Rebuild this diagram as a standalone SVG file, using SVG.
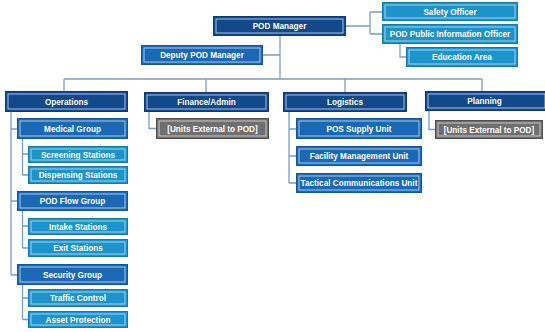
<svg xmlns="http://www.w3.org/2000/svg" width="545" height="332" viewBox="0 0 545 332">
<style>
.o{stroke-width:1}
.dk .o{fill:#13488b;stroke:#0d3a72}
.md .o{fill:#1b69b5;stroke:#145598}
.lt .o{fill:#1c93cb;stroke:#1579a9}
.gy .o{fill:#6f6f6f;stroke:#4f4f4f}
.i{fill:none;stroke:#d6e6f5;stroke-width:0.9;opacity:0.85}
.gy .i{stroke:#e4e4e4}
text{font-family:"Liberation Sans",Arial,sans-serif;font-weight:bold;font-size:8.2px;fill:#fff;text-anchor:middle}
.c{fill:none;stroke:#7c9cc4;stroke-width:1.3}
</style>
<rect width="545" height="332" fill="#fff"/>
<g id="connectors" class="c">
<path d="M280 36V79M263 55H280M64 79H482M64 79V91M206 79V92M345 79V92M482 79V91"/>
<path d="M346 26H370M370 12V34M370 12H382M370 34H382M400 44V57H406"/>
<path d="M11 112V275M11 129H17M11 201H17M11 275H17"/>
<path d="M22.5 139V175M22.5 154H28M22.5 175H28"/>
<path d="M22.5 211V248M22.5 226H28M22.5 248H28"/>
<path d="M22.5 285V319.5M22.5 298H28M22.5 319.5H28"/>
<path d="M149 112V128.5H156"/>
<path d="M289 112V183M289 129H296M289 156H296M289 183H296"/>
<path d="M429 111V129.5H435"/>
</g>
<g id="pod-manager" class="dk"><rect class="o" x="213.5" y="16.5" width="132" height="19"/><rect class="i" x="216" y="19" width="127" height="14"/><text x="279.5" y="29">POD Manager</text></g>
<g id="safety-officer" class="lt"><rect class="o" x="382.5" y="2.5" width="135" height="18"/><rect class="i" x="385" y="5" width="130" height="13"/><text x="450" y="14.5">Safety Officer</text></g>
<g id="pio" class="lt"><rect class="o" x="382.5" y="24.5" width="135" height="19"/><rect class="i" x="385" y="27" width="130" height="14"/><text x="450" y="37">POD Public Information Officer</text></g>
<g id="education-area" class="lt"><rect class="o" x="406.5" y="47.5" width="111" height="19"/><rect class="i" x="409" y="50" width="106" height="14"/><text x="462" y="60">Education Area</text></g>
<g id="deputy" class="md"><rect class="o" x="141.5" y="45.5" width="121" height="19"/><rect class="i" x="144" y="48" width="116" height="14"/><text x="202" y="58">Deputy POD Manager</text></g>
<g id="operations" class="dk"><rect class="o" x="5.5" y="91.5" width="122" height="20"/><rect class="i" x="8" y="94" width="117" height="15"/><text x="66.5" y="104.5">Operations</text></g>
<g id="finance" class="dk"><rect class="o" x="144.5" y="92.5" width="124" height="19"/><rect class="i" x="147" y="95" width="119" height="14"/><text x="206.5" y="105">Finance/Admin</text></g>
<g id="logistics" class="dk"><rect class="o" x="283.5" y="92.5" width="123" height="19"/><rect class="i" x="286" y="95" width="118" height="14"/><text x="345" y="105">Logistics</text></g>
<g id="planning" class="dk"><rect class="o" x="425.5" y="91.5" width="122" height="19"/><rect class="i" x="428" y="94" width="117" height="14"/><text x="484.5" y="104">Planning</text></g>
<g id="finance-units" class="gy"><rect class="o" x="156.5" y="118.5" width="112" height="20"/><rect class="i" x="159" y="121" width="107" height="15"/><text x="212.5" y="131.5">[Units External to POD]</text></g>
<g id="planning-units" class="gy"><rect class="o" x="435.5" y="120.5" width="107" height="18"/><rect class="i" x="438" y="123" width="102" height="13"/><text x="489" y="132.5">[Units External to POD]</text></g>
<g id="medical-group" class="md"><rect class="o" x="17.5" y="118.5" width="110" height="20"/><rect class="i" x="20" y="121" width="105" height="15"/><text x="72.5" y="131.5">Medical Group</text></g>
<g id="screening" class="lt"><rect class="o" x="28.5" y="146.5" width="99" height="16"/><rect class="i" x="31" y="149" width="94" height="11"/><text x="78" y="157.5">Screening Stations</text></g>
<g id="dispensing" class="lt"><rect class="o" x="28.5" y="166.5" width="99" height="17"/><rect class="i" x="31" y="169" width="94" height="12"/><text x="78" y="178">Dispensing Stations</text></g>
<g id="pod-flow-group" class="md"><rect class="o" x="17.5" y="191.5" width="110" height="19"/><rect class="i" x="20" y="194" width="105" height="14"/><text x="72.5" y="204">POD Flow Group</text></g>
<g id="intake" class="lt"><rect class="o" x="28.5" y="218.5" width="99" height="16"/><rect class="i" x="31" y="221" width="94" height="11"/><text x="78" y="229.5">Intake Stations</text></g>
<g id="exit" class="lt"><rect class="o" x="28.5" y="239.5" width="99" height="17"/><rect class="i" x="31" y="242" width="94" height="12"/><text x="78" y="251">Exit Stations</text></g>
<g id="security-group" class="md"><rect class="o" x="17.5" y="264.5" width="110" height="20"/><rect class="i" x="20" y="267" width="105" height="15"/><text x="72.5" y="277.5">Security Group</text></g>
<g id="traffic" class="lt"><rect class="o" x="28.5" y="289.5" width="99" height="17"/><rect class="i" x="31" y="292" width="94" height="12"/><text x="78" y="301">Traffic Control</text></g>
<g id="asset" class="lt"><rect class="o" x="28.5" y="311.5" width="99" height="16"/><rect class="i" x="31" y="314" width="94" height="11"/><text x="78" y="322.5">Asset Protection</text></g>
<g id="pos-supply" class="md"><rect class="o" x="296.5" y="118.5" width="125" height="20"/><rect class="i" x="299" y="121" width="120" height="15"/><text x="359" y="131.5">POS Supply Unit</text></g>
<g id="facility" class="md"><rect class="o" x="296.5" y="146.5" width="125" height="19"/><rect class="i" x="299" y="149" width="120" height="14"/><text x="359" y="159">Facility Management Unit</text></g>
<g id="tactical" class="md"><rect class="o" x="296.5" y="173.5" width="125" height="19"/><rect class="i" x="299" y="176" width="120" height="14"/><text x="359" y="186">Tactical Communications Unit</text></g>
</svg>
